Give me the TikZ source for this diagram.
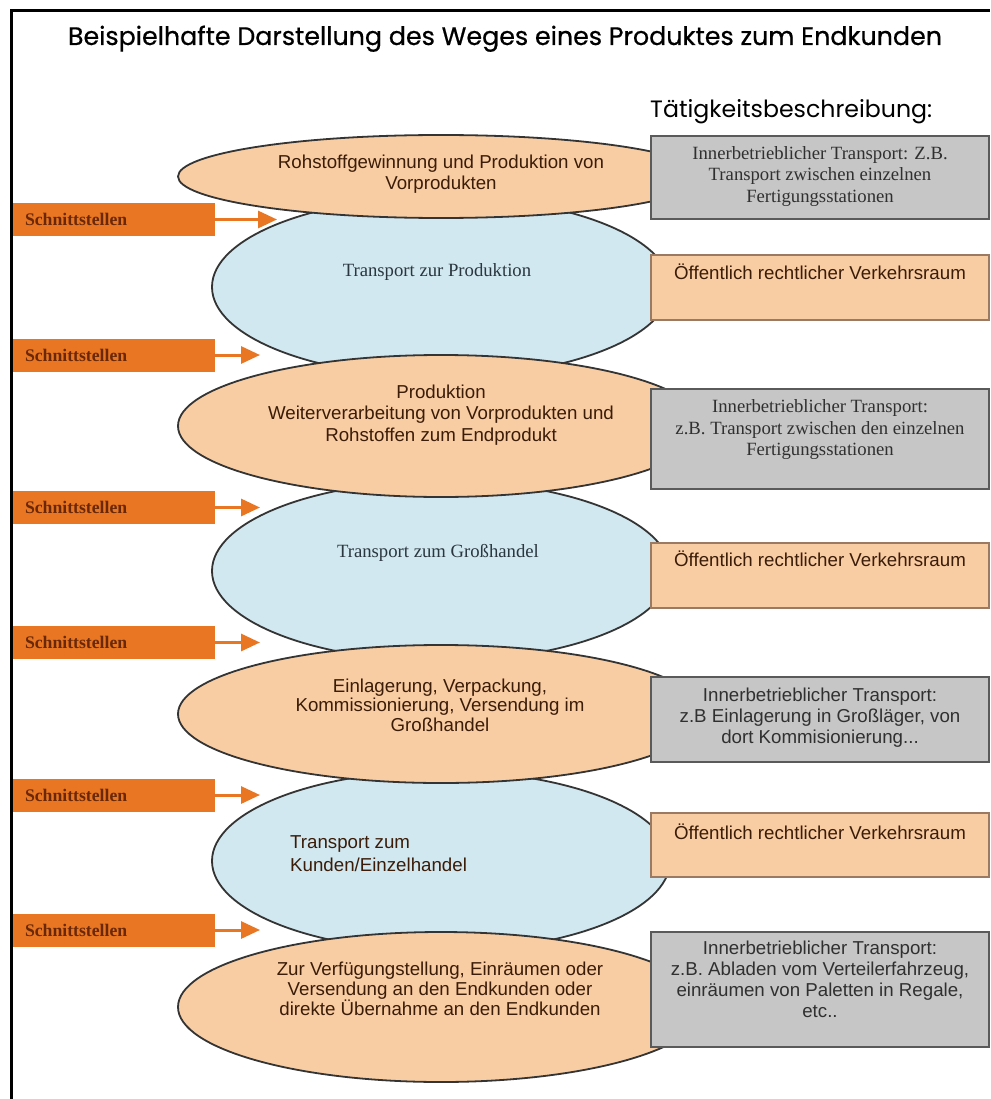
\documentclass[tikz,border=0pt]{standalone}
\usepackage{fontspec}
\usetikzlibrary{shapes.geometric,arrows.meta}
\setmainfont{Liberation Sans}
\newfontfamily\sansfnt{Liberation Sans}
\newfontfamily\seriffnt{Liberation Serif}
\newfontfamily\headfnt{Poppins}
\newfontfamily\headheavy[FakeBold=0.6]{Poppins}

\definecolor{peach}{HTML}{F9CDA3}
\definecolor{skyfill}{HTML}{D2E8F0}
\definecolor{greyfill}{HTML}{C6C6C6}
\definecolor{greyedge}{HTML}{5A5A5A}
\definecolor{peachedge}{HTML}{9A7A62}
\definecolor{ellipseedge}{HTML}{343434}
\definecolor{ifaceorange}{HTML}{E87622}
\definecolor{ifacetext}{HTML}{6A2808}
\definecolor{browntext}{HTML}{3A1C08}
\definecolor{greytext}{HTML}{303030}
\definecolor{bluetext}{HTML}{2A3640}

\begin{document}
\begin{tikzpicture}[x=1pt,y=-1pt,
  phase/.style={ellipse, draw=ellipseedge, line width=1.8pt, inner sep=0pt},
  phaseO/.style={phase, fill=peach, minimum width=526pt},
  phaseB/.style={phase, fill=skyfill, minimum width=458pt, minimum height=180pt},
  inbox/.style={rectangle, draw=greyedge, fill=greyfill, line width=1.6pt,
    minimum width=338pt, inner sep=0pt},
  roadbox/.style={rectangle, draw=peachedge, fill=peach, line width=1.3pt,
    minimum width=338pt, inner sep=0pt},
  iface/.style={rectangle, fill=ifaceorange, minimum width=204pt,
    minimum height=33pt, inner sep=0pt, text width=176pt, align=left,
    text=ifacetext, font=\seriffnt\bfseries\fontsize{17.7}{20}\selectfont},
  ifarrow/.style={draw=ifaceorange, line width=3pt,
    -{Triangle[length=19pt,width=17pt]}},
  stxt/.style={inner sep=0pt, align=center, text=browntext,
    font=\sansfnt\fontsize{18.7}{21.5}\selectfont},
  rtxt/.style={inner sep=0pt, align=center, text=bluetext,
    font=\seriffnt\fontsize{18.7}{21.5}\selectfont},
  gtxt/.style={inner sep=0pt, align=center, text=greytext,
    font=\seriffnt\fontsize{18.7}{21.5}\selectfont},
  gstxt/.style={inner sep=0pt, align=center, text=greytext,
    font=\sansfnt\fontsize{18.7}{21}\selectfont}
]
\useasboundingbox (0,0) rectangle (990,1099);
\fill[white] (0,0) rectangle (990,1099);

% transport phases (blue) lie underneath the stationary phases
\node[phaseB] (b2) at (441,287) {};
\node[phaseB] (b4) at (441,571) {};
\node[phaseB] (b6) at (441,861) {};

% stationary phases (peach)
\node[phaseO, minimum height=83pt]  (o1) at (441,176.5) {};
\node[phaseO, minimum height=142pt] (o3) at (441,426) {};
\node[phaseO, minimum height=138pt] (o5) at (441,714) {};
\node[phaseO, minimum height=150pt] (o7) at (441,1007) {};

% activity descriptions on the right
\node[inbox,   minimum height=83pt]  (g1) at (820,177.5) {};
\node[roadbox, minimum height=65pt]  (r1) at (820,287.5) {};
\node[inbox,   minimum height=100pt] (g2) at (820,439) {};
\node[roadbox, minimum height=65pt]  (r2) at (820,575.5) {};
\node[inbox,   minimum height=85pt]  (g3) at (820,719.5) {};
\node[roadbox, minimum height=64pt]  (r3) at (820,845) {};
\node[inbox,   minimum height=115pt] (g4) at (820,989.5) {};

% phase texts
\node[stxt] (t1) at (441,174) {Rohstoffgewinnung und Produktion von\\Vorprodukten};
\node[rtxt] (t2) at (437,272) {Transport zur Produktion};
\node[stxt] (t3) at (441,415) {Produktion\\Weiterverarbeitung von Vorprodukten und\\Rohstoffen zum Endprodukt};
\node[rtxt] (t4) at (438,553) {Transport zum Großhandel};
\node[stxt, font=\sansfnt\fontsize{18.7}{19.5}\selectfont] (t5) at (440,705)
  {Einlagerung, Verpackung,\\Kommissionierung, Versendung im\\Großhandel};
\node[stxt, align=left, anchor=west, font=\sansfnt\fontsize{18.7}{23}\selectfont] (t6) at (290,853.5)
  {Transport zum\\Kunden/Einzelhandel};
\node[stxt, font=\sansfnt\fontsize{18.7}{19.5}\selectfont] (t7) at (440,989)
  {Zur Verfügungstellung, Einräumen oder\\Versendung an den Endkunden oder\\direkte Übernahme an den Endkunden};

% description texts
\node[gtxt] (d1) at (820,176.5) {Innerbetrieblicher Transport: Z.B.\\Transport zwischen einzelnen\\Fertigungsstationen};
\node[stxt] (e1) at (820,272) {Öffentlich rechtlicher Verkehrsraum};
\node[gtxt] (d2) at (820,430) {Innerbetrieblicher Transport:\\z.B. Transport zwischen den einzelnen\\Fertigungsstationen};
\node[stxt] (e2) at (820,559) {Öffentlich rechtlicher Verkehrsraum};
\node[gstxt] (d3) at (820,717.5) {Innerbetrieblicher Transport:\\z.B Einlagerung in Großläger, von\\dort Kommisionierung...};
\node[stxt] (e3) at (820,832) {Öffentlich rechtlicher Verkehrsraum};
\node[gstxt] (d4) at (820,979.5) {Innerbetrieblicher Transport:\\z.B. Abladen vom Verteilerfahrzeug,\\einräumen von Paletten in Regale,\\etc..};

% interfaces with arrows
\node[iface] (s1) at (113,219.5) {Schnittstellen};
\node[iface] (s2) at (113,355)   {Schnittstellen};
\node[iface] (s3) at (113,507.5) {Schnittstellen};
\node[iface] (s4) at (113,642.5) {Schnittstellen};
\node[iface] (s5) at (113,795)   {Schnittstellen};
\node[iface] (s6) at (113,930)   {Schnittstellen};
\coordinate (a1) at (277,219.5);
\coordinate (a2) at (260,355);
\coordinate (a3) at (260,507.5);
\coordinate (a4) at (260,642.5);
\coordinate (a5) at (260,795);
\coordinate (a6) at (260,930);
\foreach \i in {1,...,6} \draw[ifarrow] (s\i.east) -- (a\i);

% headings
\node[anchor=base, inner sep=0pt] (title) at (505,45)
  {\resizebox{874pt}{!}{\headheavy Beispielhafte Darstellung des Weges eines Produktes zum Endkunden}};
\node[anchor=base west, inner sep=0pt] (act) at (650,118)
  {\resizebox{282pt}{!}{\headfnt Tätigkeitsbeschreibung:}};

% frame
\draw[line width=3pt] (11,1099) -- (11,11) -- (990,11);
\end{tikzpicture}
\end{document}
